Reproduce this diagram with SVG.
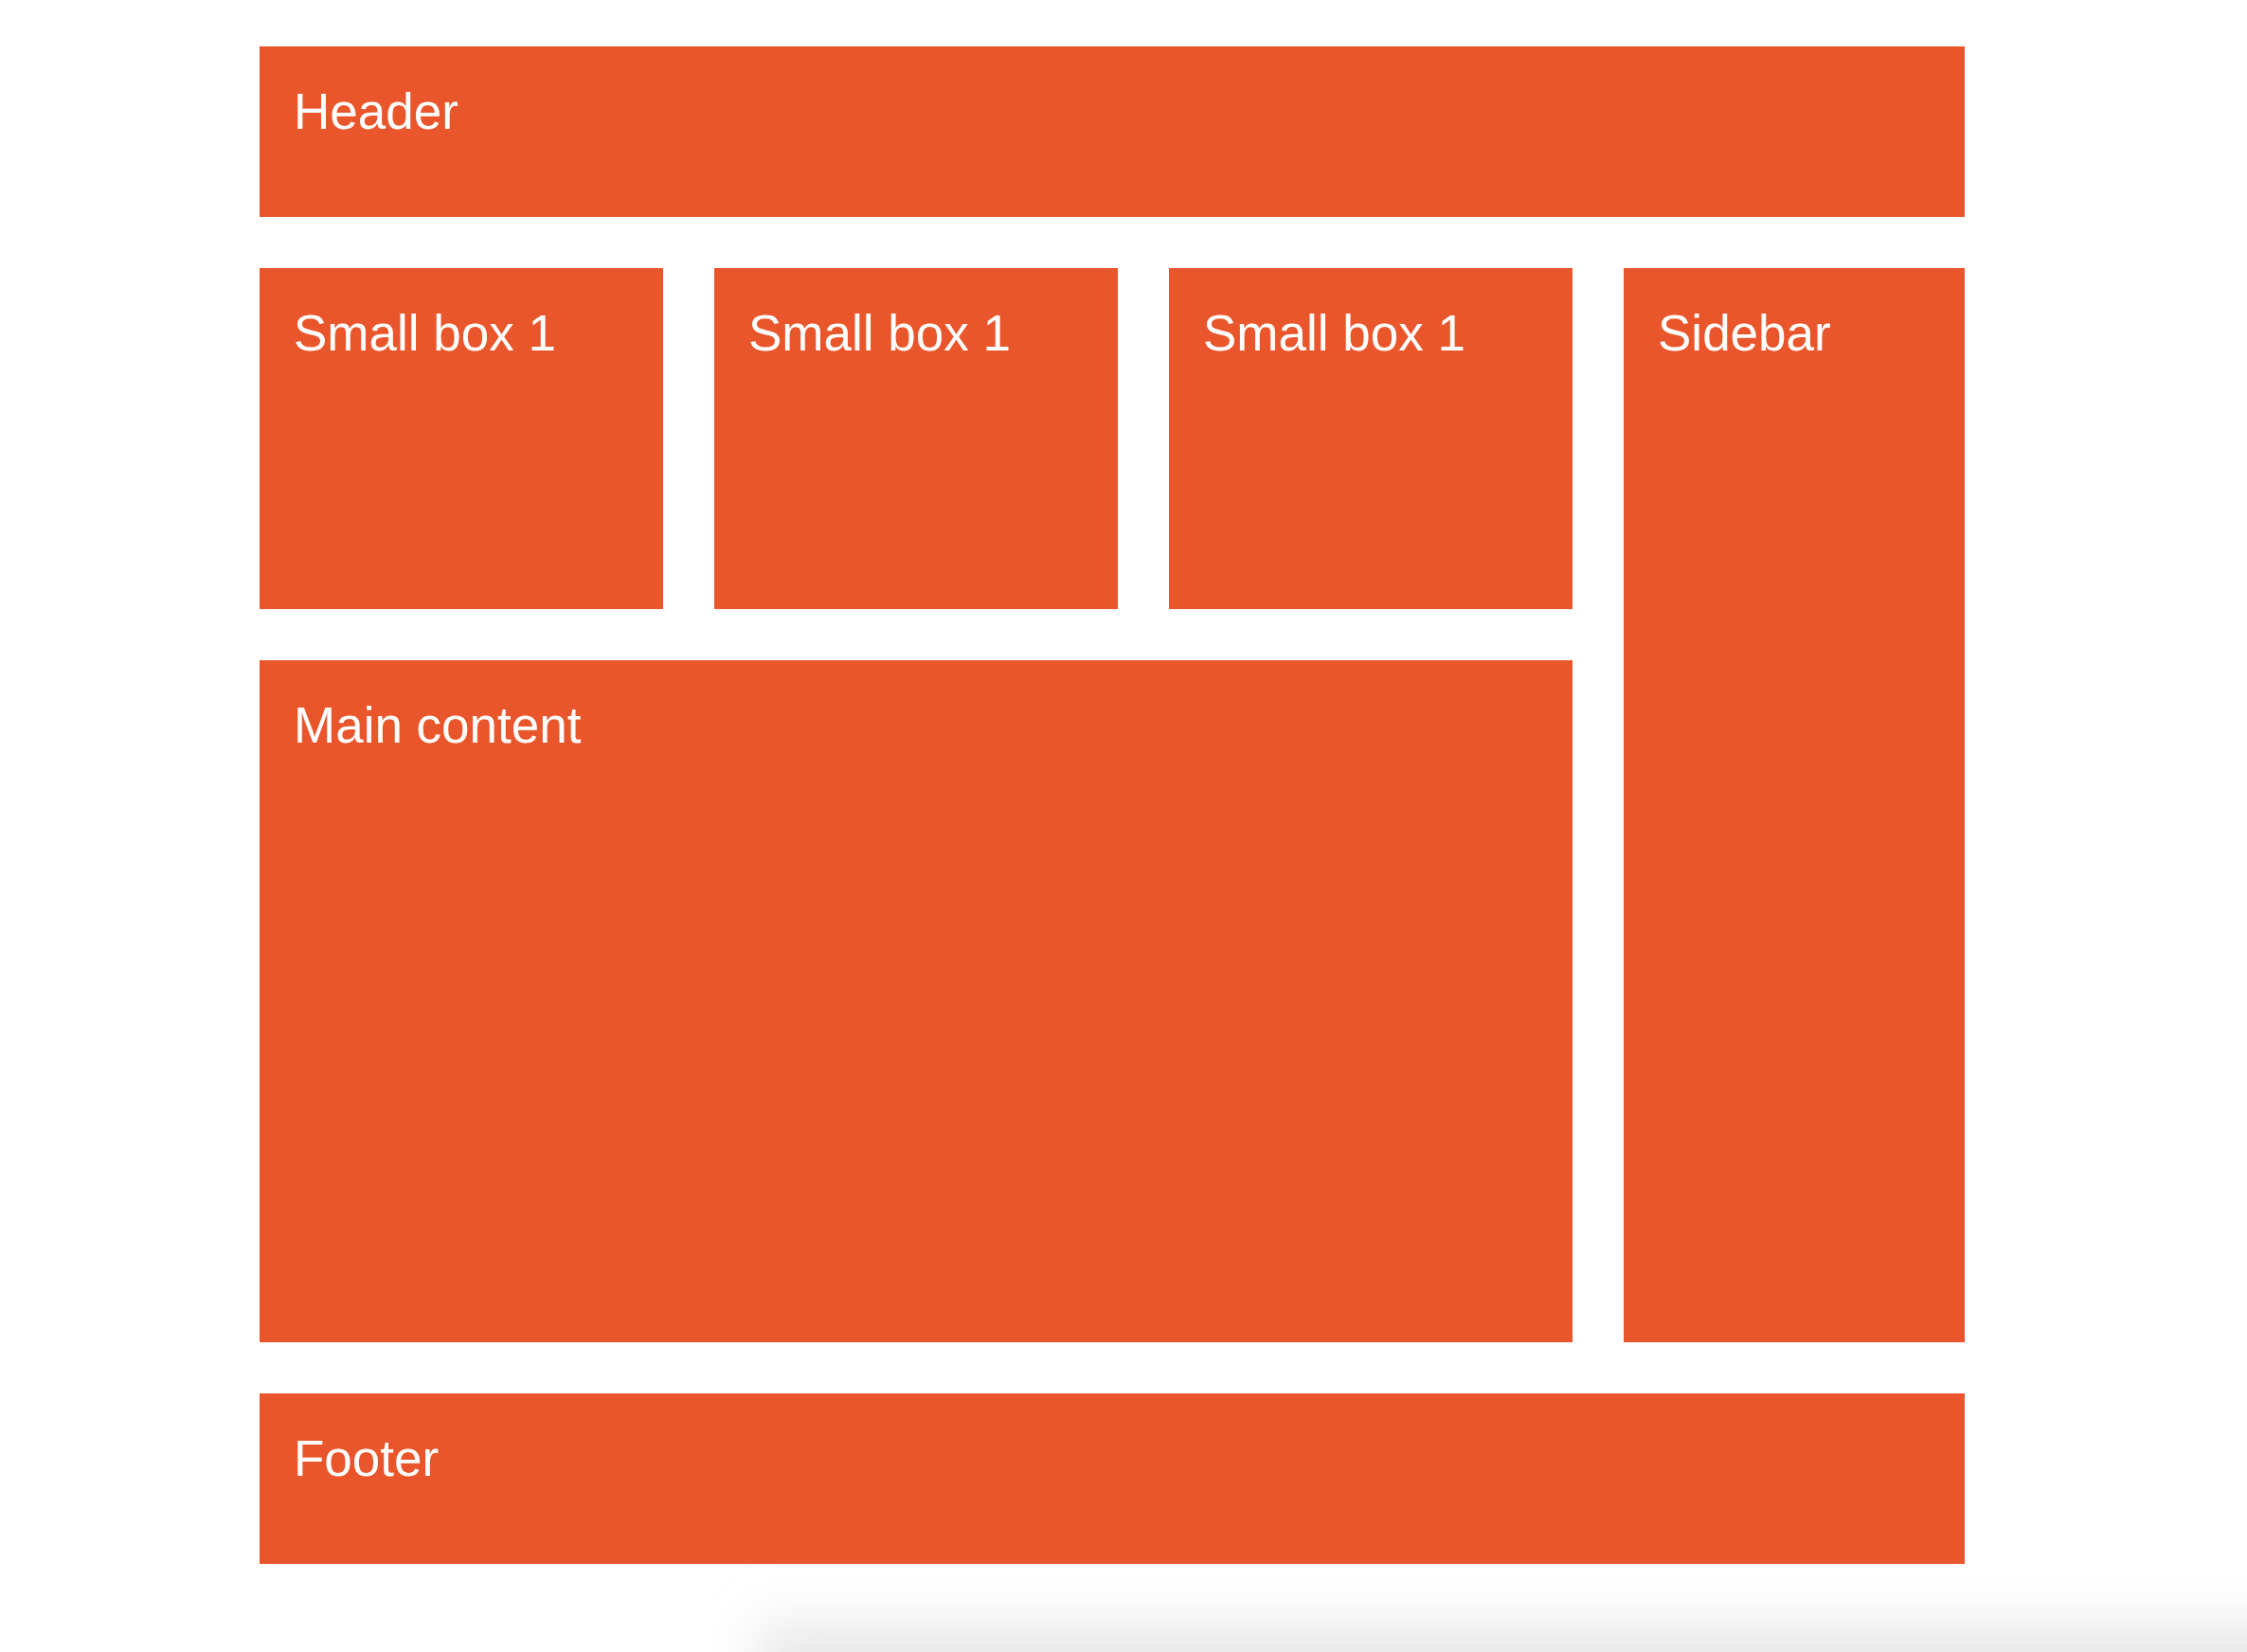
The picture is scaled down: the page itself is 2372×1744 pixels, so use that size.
<svg xmlns="http://www.w3.org/2000/svg" width="2372" height="1744" viewBox="0 0 2372 1744">
  <style>
    .box { fill: #EA562B; }
    .label { fill: #ffffff; font-family: "Liberation Sans", Arial, Helvetica, sans-serif; font-size: 53px; }
  </style>
  <defs>
    <filter id="soft" x="-20%" y="-200%" width="140%" height="500%">
      <feGaussianBlur stdDeviation="28"/>
    </filter>
  </defs>
  <rect x="0" y="0" width="2372" height="1744" fill="#ffffff"/>
  <!-- faint shadow along the bottom edge -->
  <rect x="800" y="1715" width="1700" height="90" fill="#e6e6e6" filter="url(#soft)"/>

  <g id="header">
    <rect class="box" x="274" y="49" width="1800" height="180"/>
    <text class="label" x="310" y="136">Header</text>
  </g>
  <g id="small-box-a">
    <rect class="box" x="274" y="283" width="426" height="360"/>
    <text class="label" x="310" y="370">Small box 1</text>
  </g>
  <g id="small-box-b">
    <rect class="box" x="754" y="283" width="426" height="360"/>
    <text class="label" x="790" y="370">Small box 1</text>
  </g>
  <g id="small-box-c">
    <rect class="box" x="1234" y="283" width="426" height="360"/>
    <text class="label" x="1270" y="370">Small box 1</text>
  </g>
  <g id="sidebar">
    <rect class="box" x="1714" y="283" width="360" height="1134"/>
    <text class="label" x="1750" y="370">Sidebar</text>
  </g>
  <g id="main-content">
    <rect class="box" x="274" y="697" width="1386" height="720"/>
    <text class="label" x="310" y="784">Main content</text>
  </g>
  <g id="footer">
    <rect class="box" x="274" y="1471" width="1800" height="180"/>
    <text class="label" x="310" y="1558">Footer</text>
  </g>
  <g id="connectors"/>
</svg>
